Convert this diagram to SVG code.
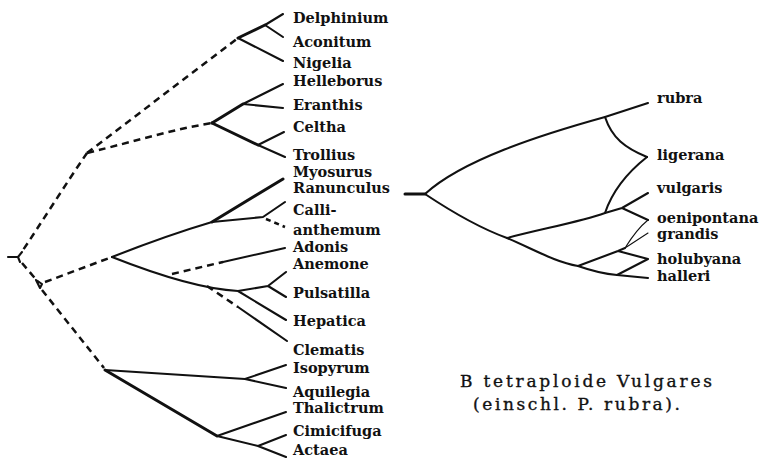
<svg xmlns="http://www.w3.org/2000/svg" width="761" height="459" viewBox="0 0 761 459">
<style>
.l{font-family:"DejaVu Serif","Liberation Serif",serif;font-weight:bold;font-size:14.5px;fill:#111}
.c{font-family:"DejaVu Serif","Liberation Serif",serif;font-size:17px;fill:#111;stroke:#111;stroke-width:0.35}
.s{fill:none;stroke:#111;stroke-width:2.1;stroke-linecap:round;stroke-linejoin:round}
.t{stroke-width:3}
.f{stroke-width:1.1}
.d{fill:none;stroke:#111;stroke-width:2.5;stroke-dasharray:7 5}
</style>
<rect width="761" height="459" fill="#fff"/>
<g id="connectors">
<path class="d" d="M87,153 L238,38"/>
<path class="d" d="M87,153 C140,140 170,130 212,123"/>
<path class="d" d="M87,153 C65,185 40,225 21,253"/>
<path class="s" d="M8,257 L18,257 L22,252 M18,257 L20,262"/>
<path class="d" d="M22,263 L39,283"/>
<path class="d" d="M45,282 L112,257"/>
<path class="d" d="M42,290 L104,368"/>
<path class="s" d="M36,280 L42,284 L40,288 Z"/>
<path class="s t" d="M238,38 L265,25"/>
<path class="s" d="M265,25 L283,14 M265,25 L283,37 M238,38 L283,61"/>
<path class="s t" d="M212,123 L243,104"/>
<path class="s" d="M243,104 L283,84 M243,104 L283,108"/>
<path class="s t" d="M212,123 L258,145"/>
<path class="s" d="M258,145 L285,157 M258,145 L284,132"/>
<path class="s" d="M112,257 C150,242 185,230 212,222"/>
<path class="s t" d="M212,222 L283,179"/>
<path class="s" d="M212,222 L263,217 L285,202"/>
<path class="d" d="M266,219 L285,227" style="stroke-dasharray:5 4"/>
<path class="s" d="M112,257 C150,272 200,289 238,291 L268,286 L286,272 M268,286 L286,297 M238,291 L286,320"/>
<path class="d" d="M172,274 L223,262"/>
<path class="s" d="M223,262 L285,248"/>
<path class="d" d="M207,286 L238,307"/>
<path class="s" d="M238,307 L287,341"/>
<path class="s" d="M105,370 L245,379 L286,365 M245,379 L286,388"/>
<path class="s t" d="M105,370 L217,436"/>
<path class="s" d="M217,436 L286,412 M217,436 L258,446 L286,435 M258,446 L286,457"/>
<path class="s t" d="M405,194 L425,194"/>
<path class="s" d="M425,194 C462,160 540,135 605,117 L648,103"/>
<path class="s" d="M605,117 C612,138 625,148 647,157"/>
<path class="s" d="M647,157 C628,172 612,192 605,213"/>
<path class="s" d="M425,194 C455,214 485,230 507,238 C535,250 555,262 578,266 C595,272 605,274 617,275 L648,278"/>
<path class="s" d="M507,238 C545,228 580,222 605,213 L622,208 L648,193 M622,208 L648,220"/>
<path class="s f" d="M648,220 C638,228 630,240 625,248 M648,233 L625,248"/>
<path class="s" d="M578,266 L618,251 L625,248 M618,251 L648,259 L617,275"/>
</g>
<g id="labels-left">
<text class="l" x="293" y="23">Delphinium</text>
<text class="l" x="293" y="47">Aconitum</text>
<text class="l" x="293" y="68">Nigelia</text>
<text class="l" x="293" y="86">Helleborus</text>
<text class="l" x="293" y="110">Eranthis</text>
<text class="l" x="293" y="132">Celtha</text>
<text class="l" x="293" y="160">Trollius</text>
<text class="l" x="293" y="177">Myosurus</text>
<text class="l" x="293" y="193">Ranunculus</text>
<text class="l" x="293" y="215">Calli-</text>
<text class="l" x="293" y="235">anthemum</text>
<text class="l" x="293" y="252">Adonis</text>
<text class="l" x="293" y="269">Anemone</text>
<text class="l" x="293" y="298">Pulsatilla</text>
<text class="l" x="293" y="326">Hepatica</text>
<text class="l" x="293" y="355">Clematis</text>
<text class="l" x="293" y="373">Isopyrum</text>
<text class="l" x="293" y="397">Aquilegia</text>
<text class="l" x="293" y="413">Thalictrum</text>
<text class="l" x="293" y="436">Cimicifuga</text>
<text class="l" x="293" y="455">Actaea</text>
</g>
<g id="labels-right">
<text class="l" x="657" y="103">rubra</text>
<text class="l" x="657" y="160">ligerana</text>
<text class="l" x="657" y="193">vulgaris</text>
<text class="l" x="657" y="223">oenipontana</text>
<text class="l" x="657" y="239">grandis</text>
<text class="l" x="657" y="264">holubyana</text>
<text class="l" x="657" y="281">halleri</text>
</g>
<g id="caption">
<text class="c" x="460" y="387" textLength="252" lengthAdjust="spacing">B tetraploide Vulgares</text>
<text class="c" x="473" y="410" textLength="207" lengthAdjust="spacing">(einschl. P. rubra).</text>
</g>
</svg>
